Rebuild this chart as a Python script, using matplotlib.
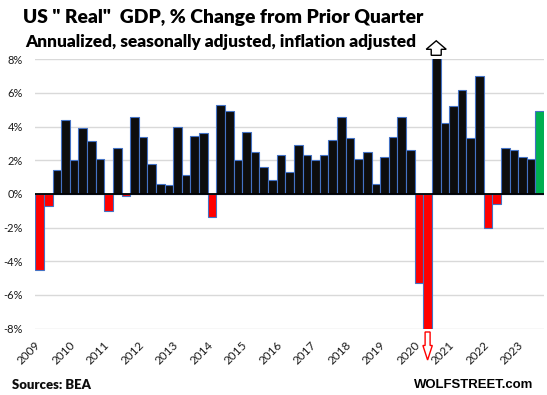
import matplotlib
matplotlib.use("Agg")
import matplotlib.pyplot as plt
import matplotlib.transforms as mtransforms
from matplotlib.patches import Polygon
import numpy as np

# ---- data ----
years = list(range(2009, 2024))
gdp_change = [-4.5, -0.7, 1.4, 4.4, 2.0, 3.9, 3.15, 2.1, -1.0, 2.7,
              -0.1, 4.6, 3.4, 1.8, 0.6, 0.5, 4.0, 1.1, 3.45, 3.6,
              -1.4, 5.3, 4.95, 2.0, 3.7, 2.5, 1.6, 0.8, 2.3, 1.3,
              2.9, 2.3, 2.0, 2.3, 3.2, 4.6, 3.3, 2.1, 2.5, 0.6,
              2.2, 3.4, 4.6, 2.6, -5.3, -28.0, 35.3, 4.2, 5.2, 6.2,
              3.3, 7.0, -2.0, -0.6, 2.7, 2.6, 2.2, 2.1, 4.9]
y_ticks = [-8, -6, -4, -2, 0, 2, 4, 6, 8]
y_tick_labels = [f"{v}%" for v in y_ticks]

W, H = 547, 395
fig = plt.figure(figsize=(W / 100, H / 100), dpi=100)
ax = fig.add_axes([35.3 / W, (H - 328.5) / H, 508.7 / W, (328.5 - 59.3) / H])

n = len(gdp_change)
x = np.arange(n)
colors = []
for i, v in enumerate(gdp_change):
    if i == n - 1:
        colors.append("#00B050")
    elif v < 0:
        colors.append("#FF0000")
    else:
        colors.append("#0D0D0D")

ax.bar(x, gdp_change, width=1.0, color=colors, edgecolor="#4472C4",
       linewidth=0.8, zorder=3)

ymin, ymax = -8, 8
ax.set_ylim(ymin, ymax)
ax.set_xlim(-0.5, n - 0.5)
ax.set_yticks(y_ticks, y_tick_labels)
ax.yaxis.grid(True, color="#D9D9D9", linewidth=1.0, zorder=0)
ax.set_axisbelow(True)
ax.axhline(0, color="black", linewidth=1.3, zorder=4)
for s in ax.spines.values():
    s.set_visible(False)
ax.tick_params(axis="both", length=0, labelsize=8, colors="#1A1A1A")
ax.tick_params(axis="y", pad=9)
for lbl in ax.get_yticklabels():
    lbl.set_fontfamily("Lato")

q1_pos = [4 * (yr - years[0]) for yr in years]
ax.set_xticks(q1_pos, [str(yr) for yr in years])
for lbl in ax.get_xticklabels():
    lbl.set_fontfamily("Lato")
    lbl.set_fontsize(8.5)
    lbl.set_rotation(45)
    lbl.set_ha("right")
    lbl.set_va("center")
    lbl.set_rotation_mode("anchor")
    lbl.set_transform(lbl.get_transform() +
                      mtransforms.ScaledTranslation(-0.01, -0.10, fig.dpi_scale_trans))

# arrows for bars beyond the axis range
def arrow_at(xd, yd, verts_px, edge):
    tr = fig.dpi_scale_trans + mtransforms.ScaledTranslation(xd, yd, ax.transData)
    verts = [(vx / 100, vy / 100) for vx, vy in verts_px]
    p = Polygon(verts, closed=True, facecolor="white", edgecolor=edge,
                linewidth=1.0, transform=tr, clip_on=False, zorder=6)
    fig.add_artist(p)

for i, v in enumerate(gdp_change):
    if v > ymax:
        arrow_at(i, ymax, [(-5, 4), (5, 4), (5, 10), (10, 10), (0, 18.5),
                           (-10, 10), (-5, 10)], "black")
    elif v < ymin:
        arrow_at(i, ymin, [(-2.5, -3.5), (2.5, -3.5), (2.5, -17), (4.7, -17),
                           (0, -31.5), (-4.7, -17), (-2.5, -17)], "#FF0000")

# texts
def fit(t, target_px):
    r = fig.canvas.get_renderer()
    for _ in range(4):
        w = t.get_window_extent(r).width
        t.set_fontsize(t.get_fontsize() * target_px / w)

t1 = fig.text(23 / W, (H - 22.7) / H, 'US " Real"  GDP, % Change from Prior Quarter',
              fontfamily="Lato", fontweight="heavy", fontsize=12, color="black",
              ha="left", va="baseline")
fit(t1, 400)
t2 = fig.text(25 / W, (H - 46.5) / H, "Annualized, seasonally adjusted, inflation adjusted",
              fontfamily="Lato", fontweight="heavy", fontsize=11, color="black",
              ha="left", va="baseline")
fit(t2, 393)
t3 = fig.text(12 / W, (H - 389) / H, "Sources: BEA", fontfamily="Lato",
              fontweight="heavy", fontsize=10, color="#0D0D0D", ha="left", va="baseline")
fit(t3, 79)
t4 = fig.text(533 / W, (H - 388) / H, "WOLFSTREET.com", fontfamily="Liberation Sans",
              fontweight="bold", fontsize=10, color="black", ha="right", va="baseline")
fit(t4, 120)

fig.savefig("out.png", dpi=100)
